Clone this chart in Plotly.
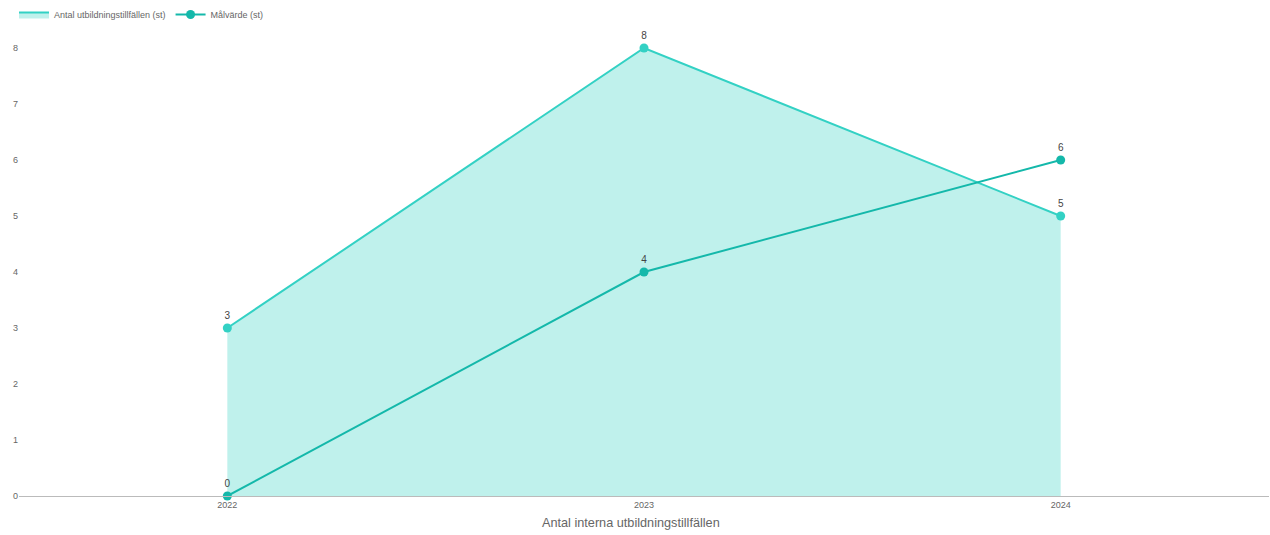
import plotly.graph_objects as go

years = ["2022", "2023", "2024"]
antal = [3, 8, 5]
malvarde = [0, 4, 6]

AREA_LINE = "#33d1c4"
AREA_FILL = "#bff1ec"
TARGET = "#14b8aa"
FONT = "Liberation Sans"

fig = go.Figure()
fig.add_trace(go.Scatter(
    x=years, y=antal, name="Antal utbildningstillfällen (st)",
    mode="lines", line=dict(color=AREA_LINE, width=2),
    fill="tozeroy", fillcolor=AREA_FILL, legendrank=1,
))
fig.add_trace(go.Scatter(
    x=years, y=antal, showlegend=False,
    mode="markers+text", text=[str(v) for v in antal], textposition="top center",
    textfont=dict(size=10, color="#444"),
    marker=dict(size=9, color=AREA_LINE), cliponaxis=False,
))
fig.add_trace(go.Scatter(
    x=years, y=malvarde, name="Målvärde (st)",
    mode="lines+markers+text", text=[str(v) for v in malvarde], textposition="top center",
    textfont=dict(size=10, color="#444"),
    line=dict(color=TARGET, width=2), marker=dict(size=9, color=TARGET),
    cliponaxis=False, legendrank=2,
))

fig.update_layout(
    width=1270, height=535,
    margin=dict(l=19, r=1, t=48, b=39),
    paper_bgcolor="white", plot_bgcolor="white",
    font=dict(family=FONT, size=10, color="#666"),
    showlegend=True,
    legend=dict(orientation="h", x=-5 / 1250, xanchor="left", y=1.0, yanchor="top",
                yref="container", font=dict(size=9, color="#666"),
                itemwidth=30, tracegroupgap=0),
    xaxis=dict(type="category", range=[-0.5, 2.5], showgrid=False, zeroline=False,
               showline=True, linecolor="#bbb", linewidth=1, ticks="",
               tickfont=dict(size=9, color="#666"), automargin=False),
    yaxis=dict(range=[0, 8], showgrid=False, zeroline=False, showline=False,
               dtick=1, tickfont=dict(size=9, color="#666"), ticks="", automargin=False),
    annotations=[dict(text="Antal interna utbildningstillfällen",
                      x=(631 - 19) / 1250, xref="paper", xanchor="center",
                      y=-27 / 448, yref="paper", yanchor="middle",
                      showarrow=False, font=dict(size=12.7, color="#666"))],
)

fig.write_html("out.html")
